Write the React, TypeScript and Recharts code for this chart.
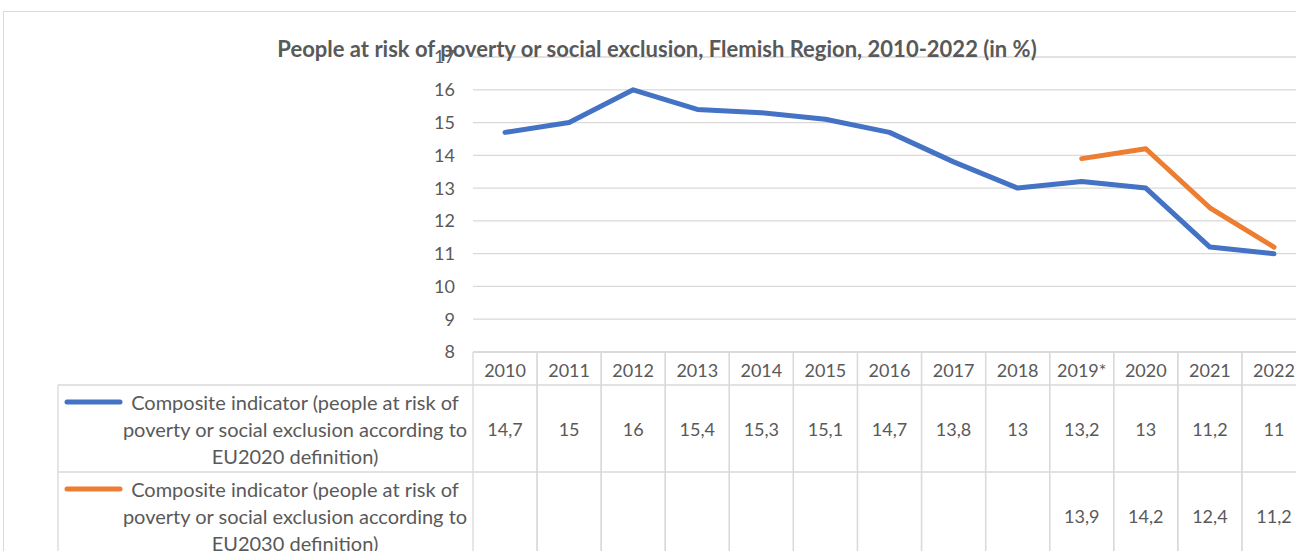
import { LineChart, Line, XAxis, YAxis, CartesianGrid } from 'recharts';

const years = ['2010', '2011', '2012', '2013', '2014', '2015', '2016', '2017', '2018', '2019*', '2020', '2021', '2022'];
const eu2020 = [14.7, 15, 16, 15.4, 15.3, 15.1, 14.7, 13.8, 13, 13.2, 13, 11.2, 11];
const eu2030 = [null, null, null, null, null, null, null, null, null, 13.9, 14.2, 12.4, 11.2];
const yTicks = [8, 9, 10, 11, 12, 13, 14, 15, 16, 17];

const seriesLabels = [
  ['Composite indicator (people at risk of', 'poverty or social exclusion according to', 'EU2020 definition)'],
  ['Composite indicator (people at risk of', 'poverty or social exclusion according to', 'EU2030 definition)'],
];
const title = 'People at risk of poverty or social exclusion, Flemish Region, 2010-2022 (in %)';

const data = years.map((year, i) => ({ year, eu2020: eu2020[i], eu2030: eu2030[i] }));

const BLUE = '#4472C4';
const ORANGE = '#ED7D31';
const GRID = '#D9D9D9';
const TEXT = '#595959';
const FONT = "Lato, 'Liberation Sans', sans-serif";

const CHART_W = 1320;
const CHART_H = 600;
const PLOT_LEFT = 473;
const PLOT_RIGHT = 1306;
const PLOT_TOP = 57;
const PLOT_BOTTOM = 352;
const COL_W = (PLOT_RIGHT - PLOT_LEFT) / years.length;
const HEADER_H = 33;
const ROW_H = 87;

const fmt = (v: number | null) => (v == null ? '' : String(v).replace('.', ','));

function TableColumn(props: any) {
  const { x, y, payload } = props;
  const i = payload.index;
  const half = COL_W / 2;
  const rows = [eu2020[i], eu2030[i]];
  return (
    <g>
      <line x1={x - half} x2={x - half} y1={y} y2={CHART_H} stroke={GRID} strokeWidth={1.3} />
      <line x1={x + half} x2={x + half} y1={y} y2={CHART_H} stroke={GRID} strokeWidth={1.3} />
      <line x1={x - half} x2={x + half} y1={y + HEADER_H} y2={y + HEADER_H} stroke={GRID} strokeWidth={1.3} />
      <line x1={x - half} x2={x + half} y1={y + HEADER_H + ROW_H} y2={y + HEADER_H + ROW_H} stroke={GRID} strokeWidth={1.3} />
      <text x={x} y={y + HEADER_H / 2 + 1} textAnchor="middle" dominantBaseline="central" fill={TEXT} fontSize={18} fontFamily={FONT}>
        {payload.value}
      </text>
      {rows.map((v, r) => (
        <text key={r} x={x} y={y + HEADER_H + ROW_H * r + ROW_H / 2} textAnchor="middle" dominantBaseline="central" fill={TEXT} fontSize={18} fontFamily={FONT}>
          {fmt(v)}
        </text>
      ))}
    </g>
  );
}

export default function App() {
  const colors = [BLUE, ORANGE];
  return (
    <div style={{ position: 'absolute', left: 0, top: 0, width: 1296, height: 551, overflow: 'hidden', background: '#fff' }}>
      <div style={{ position: 'absolute', left: 3, top: 11, width: 1400, height: 700, border: `1px solid ${GRID}` }} />
      <div style={{ position: 'absolute', left: 0, top: 0 }}>
        <LineChart
          width={CHART_W}
          height={CHART_H}
          data={data}
          margin={{ top: PLOT_TOP, right: CHART_W - PLOT_RIGHT, left: PLOT_LEFT - 60, bottom: 0 }}
        >
          <CartesianGrid vertical={false} stroke={GRID} strokeWidth={1.3} />
          <XAxis
            dataKey="year"
            height={CHART_H - PLOT_BOTTOM}
            interval={0}
            tickLine={false}
            tickSize={0}
            tickMargin={0}
            axisLine={{ stroke: GRID, strokeWidth: 1.3 }}
            padding={{ left: COL_W / 2, right: COL_W / 2 }}
            tick={<TableColumn />}
          />
          <YAxis
            width={60}
            domain={[8, 17]}
            ticks={yTicks}
            interval={0}
            axisLine={false}
            tickLine={false}
            tickSize={0}
            tickMargin={18}
            tick={{ fill: TEXT, fontSize: 18, fontFamily: FONT }}
          />
          <Line dataKey="eu2020" stroke={BLUE} strokeWidth={5} dot={false} isAnimationActive={false} strokeLinecap="round" strokeLinejoin="round" />
          <Line dataKey="eu2030" stroke={ORANGE} strokeWidth={5} dot={false} isAnimationActive={false} strokeLinecap="round" strokeLinejoin="round" />
        </LineChart>
      </div>
      <svg style={{ position: 'absolute', left: 0, top: 0, pointerEvents: 'none' }} width={1296} height={551}>
        <text x={657} y={48} textAnchor="middle" dominantBaseline="central" fill={TEXT} fontSize={22} fontWeight="bold" fontFamily={FONT}>
          {title}
        </text>
        <line x1={58} x2={PLOT_LEFT} y1={PLOT_BOTTOM + HEADER_H} y2={PLOT_BOTTOM + HEADER_H} stroke={GRID} strokeWidth={1.3} />
        <line x1={58} x2={PLOT_LEFT} y1={PLOT_BOTTOM + HEADER_H + ROW_H} y2={PLOT_BOTTOM + HEADER_H + ROW_H} stroke={GRID} strokeWidth={1.3} />
        <line x1={58} x2={58} y1={PLOT_BOTTOM + HEADER_H} y2={551} stroke={GRID} strokeWidth={1.3} />
        {seriesLabels.map((lines, r) => {
          const top = PLOT_BOTTOM + HEADER_H + ROW_H * r;
          return (
            <g key={r}>
              <line x1={67} x2={120} y1={top + 17} y2={top + 17} stroke={colors[r]} strokeWidth={5} strokeLinecap="round" />
              {lines.map((t, k) => (
                <text key={k} x={295} y={top + 17 + k * 27} textAnchor="middle" dominantBaseline="central" fill={TEXT} fontSize={20} fontFamily={FONT}>
                  {t}
                </text>
              ))}
            </g>
          );
        })}
      </svg>
    </div>
  );
}
